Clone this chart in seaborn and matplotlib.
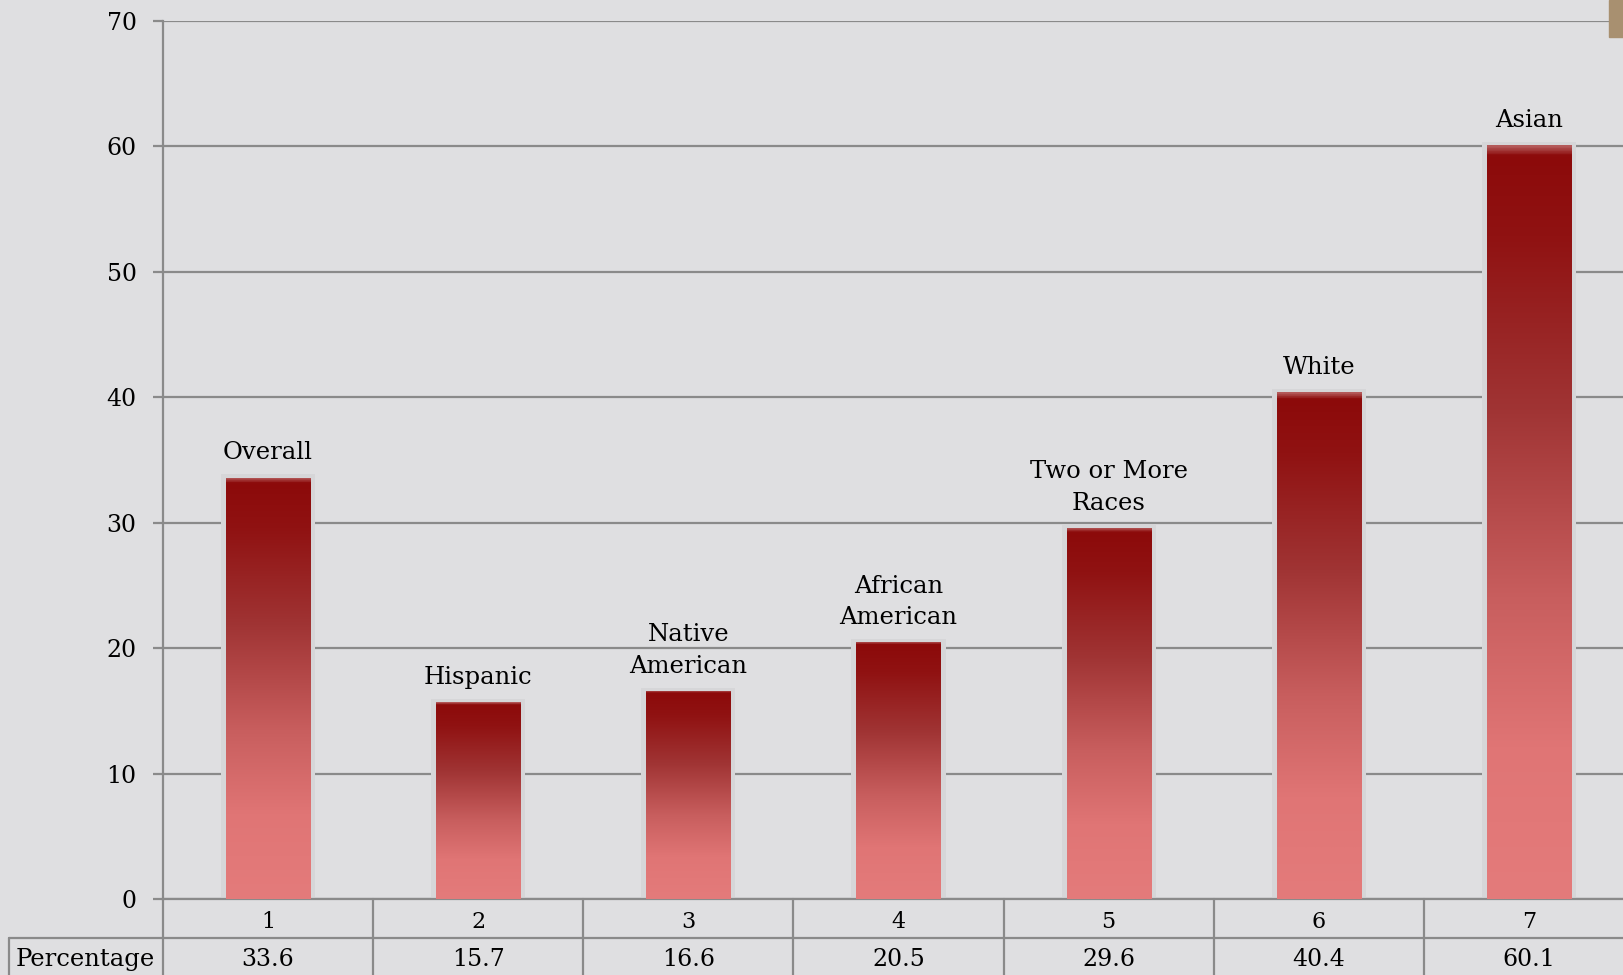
import numpy as np
import pandas as pd
import matplotlib.pyplot as plt
import seaborn as sns
from matplotlib.colors import LinearSegmentedColormap
from matplotlib.patches import Rectangle

# valores
grupos = ['Overall', 'Hispanic', 'Native\nAmerican', 'African\nAmerican',
          'Two or More\nRaces', 'White', 'Asian']
posicoes = ['1', '2', '3', '4', '5', '6', '7']
percentual = [33.6, 15.7, 16.6, 20.5, 29.6, 40.4, 60.1]
yticks = [0, 10, 20, 30, 40, 50, 60, 70]

dados = pd.DataFrame({'pos': posicoes, 'pct': percentual, 'grupo': grupos})

fundo = '#dfdfe1'
cinza = '#8a8a8a'

sns.set_theme(style='white')
plt.rcParams['font.family'] = ['DejaVu Serif']

fig = plt.figure(figsize=(16.24, 9.75), dpi=100, facecolor=fundo)
ax = fig.add_axes([163 / 1624, 76 / 975, 1471 / 1624, 878 / 975])
ax.set_facecolor(fundo)

sns.barplot(data=dados, x='pos', y='pct', ax=ax, width=0.4,
            color='#e47b7b', edgecolor='none', saturation=1)

degrade = LinearSegmentedColormap.from_list('degrade', [
    (0.0, '#b45a5a'), (0.012, '#8c0a0a'), (0.12, '#901212'),
    (0.35, '#a03434'), (0.6, '#c85e5e'), (0.8, '#e07575'), (1.0, '#e47b7b')])
grad = np.linspace(0, 1, 256).reshape(-1, 1)

px = 7 / 1471  # um pixel em unidades de dados (eixo x)
for barra, nome in zip(ax.patches, grupos):
    x0, w, h = barra.get_x(), barra.get_width(), barra.get_height()
    ax.add_patch(Rectangle((x0 - 5 * px, 0), w + 10 * px, h + 0.25,
                           color='#d6d6d8', zorder=1, lw=0))
    barra.set_zorder(2)
    im = ax.imshow(grad, cmap=degrade, aspect='auto', origin='upper',
                   extent=[x0, x0 + w, 0, h], zorder=3)
    im.set_clip_path(barra)
    ax.annotate(nome, (x0 + w / 2, h), xytext=(0, 9.5), textcoords='offset points',
                ha='center', va='bottom', fontsize=17.5, linespacing=1.45, color='black')

ax.set_xlim(-0.5, 6.5)
ax.set_ylim(0, 70)
ax.set_yticks(yticks)
ax.yaxis.grid(True, color=cinza, lw=1.6)
ax.set_axisbelow(True)
ax.set_xlabel('')
ax.set_ylabel('')
ax.tick_params(axis='y', length=7, width=1.6, color=cinza, labelsize=17,
               labelcolor='black', pad=12, left=True)
ax.tick_params(axis='x', length=0, labelsize=16, labelcolor='black', pad=9)
for s in ['top', 'right']:
    ax.spines[s].set_visible(False)
for s in ['left', 'bottom']:
    ax.spines[s].set_color(cinza)
    ax.spines[s].set_linewidth(1.6)

# tabela de dados abaixo do eixo
h_lin = 39 / 878
kw = dict(color=cinza, lw=1.6, clip_on=False, transform=ax.transAxes)
larg = 1 / 7
ax.plot([-154 / 1471, 1.01], [-h_lin, -h_lin], **kw)
ax.plot([-154 / 1471, -154 / 1471], [-h_lin, -2.2 * h_lin], **kw)
for i in range(8):
    ax.plot([i * larg, i * larg], [0, -2.2 * h_lin], **kw)
ax.text(-78 / 1471, -1.55 * h_lin, 'Percentage', transform=ax.transAxes,
        ha='center', va='center', fontsize=17.5, color='black')
for i, v in enumerate(percentual):
    ax.text(i, -1.55 * h_lin, f'{v:.1f}', transform=ax.get_xaxis_transform(),
            ha='center', va='center', fontsize=17, color='black')

# pequeno detalhe marrom no canto
fig.patches.append(Rectangle((1609 / 1624, 938 / 975), 15 / 1624, 37 / 975,
                             transform=fig.transFigure, color='#a89070', zorder=5))

fig.savefig('out.png', dpi=100, facecolor=fundo)
